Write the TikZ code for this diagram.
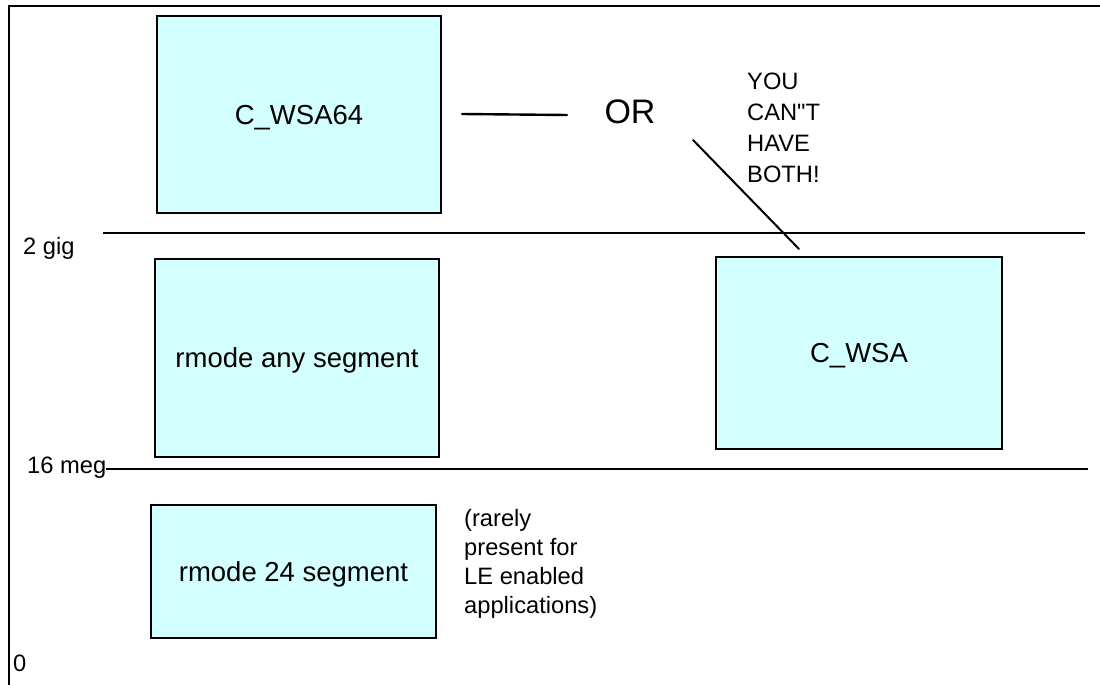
\documentclass[tikz,border=0pt]{standalone}
\usepackage{fontspec}
\setmainfont{Liberation Sans}[Ligatures=TeXOff]
\definecolor{segfill}{RGB}{212,255,255}
\begin{document}
\begin{tikzpicture}[x=1pt,y=-1pt,
  seg/.style={draw=black, line width=2.5pt, fill=segfill, inner sep=0pt,
              text height=19.7pt, text depth=0pt,
              font=\fontsize{27.5}{33}\selectfont},
  lbl/.style={inner sep=0pt, anchor=base west, font=\fontsize{23.7}{29}\selectfont},
  note/.style={inner sep=0pt, anchor=north west, align=left},
  boundary/.style={line width=2.4pt},
  link/.style={line width=2.4pt, line cap=round}]
\useasboundingbox (0,0) rectangle (1100,685);

% page frame
\draw[line width=1.6pt] (1102,6) -- (9,6) -- (9,687);

% address boundaries
\node[lbl] (gig) at (23,254) {2 gig};
\node[lbl] (meg) at (27,473) {16 meg};
\node[lbl] (zero) at (13,671) {0};
\draw[boundary] (103,233) -- (1085,233);
\draw[boundary] (meg.east |- 0,469) -- (1088,469);

% storage areas
\node[seg, minimum width=284pt, minimum height=197pt] (wsa64) at (299,114.5) {C\_WSA64};
\node[seg, minimum width=284pt, minimum height=198pt] (anyseg) at (297,358) {rmode any segment};
\node[seg, minimum width=286pt, minimum height=192pt] (wsa) at (859,353) {C\_WSA};
\node[seg, minimum width=285pt, minimum height=133pt] (seg24) at (293.5,571.5) {rmode 24 segment};

% the either/or remark
\node[inner sep=0pt, font=\fontsize{34}{40}\selectfont] (or) at (630,112) {OR};
\coordinate (orL) at (462,114);
\coordinate (orR) at (567,115);
\coordinate (diagTop) at (693,140);
\coordinate (diagEnd) at (799,249);
\draw[link] (orL) -- (orR);
\draw[link, line width=2pt] (diagTop) -- (diagEnd);

\node[note, font=\fontsize{23.7}{31}\selectfont] (both) at (747,73)
  {YOU\\CAN"T\\HAVE\\BOTH!};
\node[note, font=\fontsize{23.7}{29}\selectfont] (rare) at (464,509)
  {(rarely\\present for\\LE enabled\\applications)};
\end{tikzpicture}
\end{document}
